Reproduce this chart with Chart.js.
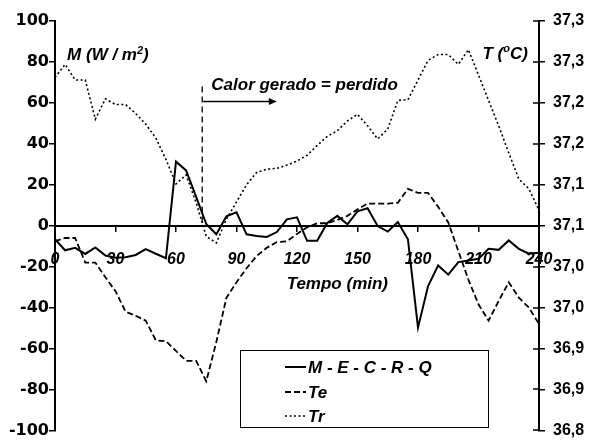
<!DOCTYPE html>
<html>
<head>
<meta charset="utf-8">
<script src="https://cdn.jsdelivr.net/npm/chart.js@4/dist/chart.umd.min.js"></script>
<style>
  html, body { margin: 0; padding: 0; background: #fff; }
  canvas { display: block; }
</style>
</head>
<body>
<canvas id="c" width="592" height="448"></canvas>
<script>
// Time axis (minutes)
const minutes = [0, 5, 10, 15, 20, 25, 30, 35, 40, 45, 50, 55, 60, 65, 70, 75, 80, 85, 90, 95,
  100, 105, 110, 115, 120, 125, 130, 135, 140, 145, 150, 155, 160, 165, 170, 175, 180, 185,
  190, 195, 200, 205, 210, 215, 220, 225, 230, 235, 240];

// Heat balance M - E - C - R - Q (W/m²), left axis
const heatBalance = [-6.6, -12.0, -10.8, -13.8, -10.6, -14.6, -15.6, -15.4, -14.3, -11.4, -13.7, -15.9,
  31.3, 27.0, 14.1, 0.8, -4.2, 4.6, 6.5, -4.2, -5.0,
  -5.5, -3.1, 3.1, 4.1, -7.4, -7.4, 1.3, 4.8, 0.7, 7.0, 8.5, -0.2, -2.9, 1.8, -6.6,
  -49.8, -29.5, -19.4, -23.9, -17.8, -17.0, -16.2, -11.3, -11.8, -7.2, -11.3, -13.7, -13.2];

// Te (°C), right axis
const tempTe = [37.031, 37.035, 37.035, 37.005, 37.005, 36.987, 36.970, 36.945, 36.940, 36.934, 36.910, 36.909,
  36.897, 36.885, 36.885, 36.860, 36.908, 36.962, 36.981, 36.998, 37.013,
  37.023, 37.030, 37.031, 37.040, 37.048, 37.053, 37.053, 37.057, 37.062, 37.070, 37.077, 37.077, 37.077, 37.078, 37.095,
  37.090, 37.090, 37.073, 37.054, 37.019, 36.984, 36.954, 36.934, 36.958, 36.981, 36.962, 36.950, 36.930];

// Tr (°C), right axis
const tempTr = [37.231, 37.247, 37.228, 37.228, 37.180, 37.205, 37.198, 37.198, 37.187, 37.174, 37.157, 37.131,
  37.101, 37.112, 37.078, 37.037, 37.029, 37.058, 37.079, 37.100, 37.115,
  37.119, 37.120, 37.124, 37.129, 37.136, 37.148, 37.159, 37.166, 37.178, 37.186, 37.172, 37.156, 37.168, 37.203, 37.204,
  37.228, 37.252, 37.259, 37.259, 37.247, 37.265, 37.234, 37.203, 37.172, 37.139, 37.107, 37.095, 37.069];

// Tick labels
const timeTicks = [0, 30, 60, 90, 120, 150, 180, 210, 240];
const tempTickLabels = ['36,8', '36,9', '36,9', '37,0', '37,0', '37,1', '37,1', '37,2', '37,2', '37,3', '37,3'];

// Annotation anchors (data units)
const balanceMinute = 73;      // heat generated = heat lost
const balanceTop = 68;
const arrowEndMinute = 110;
const arrowLevel = 60.7;

const FONT = '"Liberation Sans", Arial, Helvetica, sans-serif';

function pairs(ys) { return minutes.map((m, i) => ({ x: m, y: ys[i] })); }

function drawRich(ctx, parts, x, y, align) {
  let total = 0;
  parts.forEach(p => { ctx.font = `italic bold ${p.size}px ${FONT}`; total += ctx.measureText(p.text).width; });
  let cx = align === 'right' ? x - total : (align === 'center' ? x - total / 2 : x);
  parts.forEach(p => {
    ctx.font = `italic bold ${p.size}px ${FONT}`;
    ctx.fillText(p.text, cx, y - (p.rise || 0));
    cx += ctx.measureText(p.text).width;
  });
}

const overlay = {
  id: 'overlay',
  afterDraw(chart) {
    const { ctx, chartArea } = chart;
    const xs = chart.scales.x, ys = chart.scales.y, yr = chart.scales.y1;
    ctx.save();
    ctx.fillStyle = '#000';
    ctx.strokeStyle = '#000';

    // inner half of the right-axis tick marks
    ctx.lineWidth = 1.5;
    yr.ticks.forEach(t => {
      const py = Math.round(yr.getPixelForValue(t.value));
      ctx.beginPath();
      ctx.moveTo(chartArea.right - 6, py);
      ctx.lineTo(chartArea.right, py);
      ctx.stroke();
    });

    // vertical dashed marker
    const mx = xs.getPixelForValue(balanceMinute);
    ctx.lineWidth = 1.3;
    ctx.setLineDash([6, 4]);
    ctx.beginPath();
    ctx.moveTo(mx, ys.getPixelForValue(balanceTop));
    ctx.lineTo(mx, ys.getPixelForValue(0));
    ctx.stroke();
    ctx.setLineDash([]);

    // arrow
    const ay = ys.getPixelForValue(arrowLevel);
    const ax2 = xs.getPixelForValue(arrowEndMinute);
    ctx.lineWidth = 1.5;
    ctx.beginPath();
    ctx.moveTo(mx + 1, ay);
    ctx.lineTo(ax2 - 6, ay);
    ctx.stroke();
    ctx.beginPath();
    ctx.moveTo(ax2, ay);
    ctx.lineTo(ax2 - 8, ay - 3.5);
    ctx.lineTo(ax2 - 8, ay + 3.5);
    ctx.closePath();
    ctx.fill();

    ctx.textBaseline = 'alphabetic';
    ctx.textAlign = 'left';
    drawRich(ctx, [{ text: 'Calor gerado = perdido', size: 17 }],
      xs.getPixelForValue(77.5), ys.getPixelForValue(66.5), 'left');
    drawRich(ctx, [{ text: 'M (W / m', size: 17 }, { text: '2', size: 11, rise: 6 }, { text: ')', size: 17 }],
      xs.getPixelForValue(6), ys.getPixelForValue(81), 'left');
    drawRich(ctx, [{ text: 'T (', size: 17 }, { text: 'o', size: 11, rise: 7 }, { text: 'C)', size: 17 }],
      xs.getPixelForValue(234.5), ys.getPixelForValue(81.5), 'right');
    drawRich(ctx, [{ text: 'Tempo (min)', size: 17 }],
      xs.getPixelForValue(140), ys.getPixelForValue(-31), 'center');

    // legend
    const bx = 240, by = 350, bw = 248, bh = 77;
    ctx.fillStyle = '#fff';
    ctx.fillRect(bx, by, bw, bh);
    ctx.strokeStyle = '#000';
    ctx.lineWidth = 1;
    ctx.strokeRect(bx + 0.5, by + 0.5, bw, bh);
    ctx.fillStyle = '#000';
    ctx.textBaseline = 'middle';
    const rows = [by + 17, by + 42, by + 66];
    chart.data.datasets.forEach((ds, i) => {
      const ry = rows[i];
      ctx.strokeStyle = ds.borderColor;
      ctx.lineWidth = ds.borderWidth;
      ctx.setLineDash(ds.borderDash || []);
      ctx.beginPath();
      ctx.moveTo(285, ry);
      ctx.lineTo(306, ry);
      ctx.stroke();
      ctx.setLineDash([]);
      ctx.font = `italic bold 17px ${FONT}`;
      ctx.fillText(ds.label, 308, ry + 1);
    });
    ctx.restore();
  }
};

new Chart(document.getElementById('c'), {
  type: 'line',
  data: {
    datasets: [
      { label: 'M - E - C - R - Q', data: pairs(heatBalance), yAxisID: 'y',
        borderColor: '#000', borderWidth: 2, pointRadius: 0, tension: 0 },
      { label: 'Te', data: pairs(tempTe), yAxisID: 'y1',
        borderColor: '#000', borderWidth: 1.8, borderDash: [6, 3], pointRadius: 0, tension: 0 },
      { label: 'Tr', data: pairs(tempTr), yAxisID: 'y1',
        borderColor: '#000', borderWidth: 1.6, borderDash: [2, 2.5], pointRadius: 0, tension: 0 }
    ]
  },
  options: {
    responsive: false,
    animation: false,
    devicePixelRatio: 1,
    layout: { padding: { top: 21, bottom: 10, left: 0, right: 0 } },
    plugins: { legend: { display: false }, tooltip: { enabled: false }, title: { display: false } },
    scales: {
      x: {
        type: 'linear', min: 0, max: 240,
        position: { y: 0 },
        afterBuildTicks: s => { s.ticks = timeTicks.map(v => ({ value: v })); },
        ticks: { color: '#000', padding: 19, maxRotation: 0, autoSkip: false,
          font: { family: FONT, size: 16, weight: 'bold', style: 'italic' } },
        grid: { drawOnChartArea: false, drawTicks: true, tickLength: 5, color: '#000', lineWidth: 1.5 },
        border: { display: true, color: '#000', width: 2 }
      },
      y: {
        position: 'left', min: -100, max: 100,
        ticks: { stepSize: 20, color: '#000', padding: 0,
          font: { family: '"DejaVu Sans", sans-serif', size: 16, weight: 'bold' } },
        grid: { drawOnChartArea: false, drawTicks: true, tickLength: 6, color: '#000', lineWidth: 1.5 },
        border: { display: true, color: '#000', width: 2 },
        afterFit: s => { s.width = 55; }
      },
      y1: {
        position: 'right', min: 36.8, max: 37.3,
        ticks: { stepSize: 0.05, color: '#000', padding: 8,
          callback: (v, i) => tempTickLabels[i],
          font: { family: FONT, size: 16, weight: 'bold' } },
        grid: { drawOnChartArea: false, drawTicks: true, tickLength: 6, color: '#000', lineWidth: 1.5 },
        border: { display: true, color: '#000', width: 2 },
        afterFit: s => { s.width = 53; }
      }
    }
  },
  plugins: [overlay]
});
</script>
</body>
</html>
